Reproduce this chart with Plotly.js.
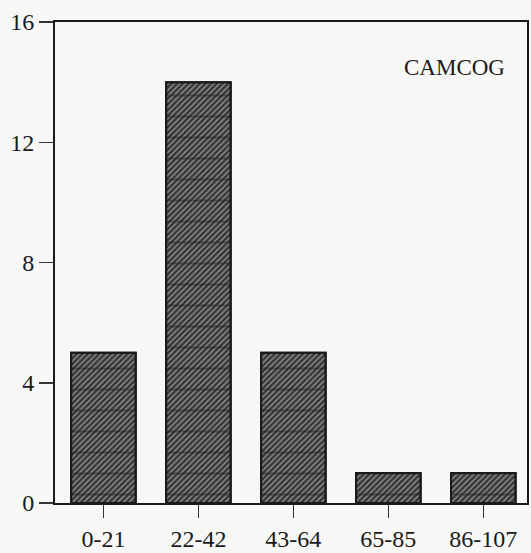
<!DOCTYPE html>
<html>
<head>
<meta charset="utf-8">
<script src="https://cdn.plot.ly/plotly-3.0.1.min.js"></script>
<style>
  html, body { margin: 0; padding: 0; background: #f7f7f6; }
  #chart { width: 531px; height: 553px; }
</style>
</head>
<body>
<div id="chart"></div>
<script>
// CAMCOG score bands and number of cases in each
const scoreBands = ['0-21', '22-42', '43-64', '65-85', '86-107'];
const caseCounts = [5, 14, 5, 1, 1];
const yTicks = [0, 4, 8, 12, 16];

const serif = '"Liberation Serif", "DejaVu Serif", serif';

// Base bars: dark fill with fine diagonal hatching
const hatched = {
  type: 'bar',
  x: scoreBands,
  y: caseCounts,
  width: 0.68,
  marker: {
    color: '#3a3a3a',
    line: { color: '#1a1a1a', width: 2 },
    pattern: { shape: '/', fgcolor: '#959595', bgcolor: '#363636', size: 4, solidity: 0.35 }
  },
  hoverinfo: 'skip'
};

// Same bars again, carrying the horizontal banding on top
const banded = {
  type: 'bar',
  x: scoreBands,
  y: caseCounts,
  width: 0.68,
  marker: {
    color: 'rgba(0,0,0,0)',
    line: { color: '#1a1a1a', width: 2 },
    pattern: { shape: '-', fgcolor: '#222', bgcolor: 'rgba(0,0,0,0)', size: 21, solidity: 0.1, fillmode: 'overlay' }
  },
  hoverinfo: 'skip'
};

const layout = {
  width: 531,
  height: 553,
  margin: { l: 55, r: 4, t: 22, b: 50 },
  paper_bgcolor: '#f7f7f6',
  plot_bgcolor: '#f7f7f6',
  barmode: 'overlay',
  showlegend: false,
  font: { family: serif, color: '#1a1a1a', size: 24 },
  xaxis: {
    type: 'category',
    range: [-0.51, 4.46],
    showline: true, mirror: true, linecolor: '#1a1a1a', linewidth: 2,
    ticks: 'outside', ticklen: 13, tickwidth: 1.5, tickcolor: '#333',
    showgrid: false, zeroline: false,
    tickfont: { family: serif, size: 24, color: '#1a1a1a' }
  },
  yaxis: {
    range: [0, 16],
    tickvals: yTicks,
    ticktext: yTicks.map(String),
    showline: true, mirror: true, linecolor: '#1a1a1a', linewidth: 2,
    ticks: 'outside', ticklen: 14, tickwidth: 1.5, tickcolor: '#333',
    showgrid: false, zeroline: false,
    tickfont: { family: serif, size: 24, color: '#1a1a1a' }
  },
  annotations: [{
    text: 'CAMCOG',
    xref: 'paper', yref: 'paper',
    x: 0.847, y: 0.905,
    xanchor: 'center', yanchor: 'middle',
    showarrow: false,
    font: { family: serif, size: 23, color: '#1a1a1a' }
  }]
};

Plotly.newPlot('chart', [hatched, banded], layout, { displayModeBar: false, staticPlot: true });
</script>
</body>
</html>
